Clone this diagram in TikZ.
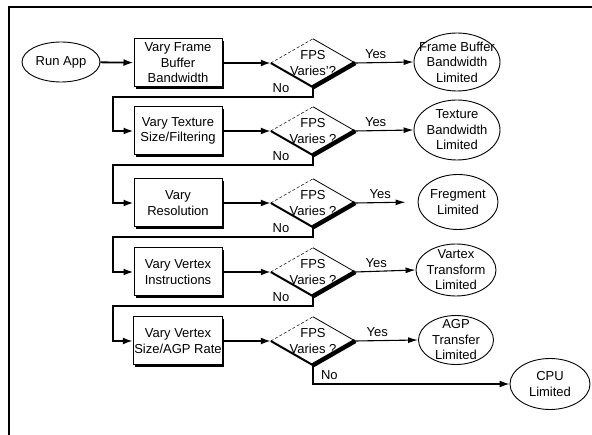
\documentclass[tikz,border=0pt]{standalone}
\usepackage{fontspec}
\setmainfont{Liberation Sans}
\usetikzlibrary{shapes.geometric,arrows.meta,shadows}

\begin{document}
\begin{tikzpicture}[x=1pt, y=-1pt,
        font=\fontsize{13}{15.5}\selectfont,
        stepbox/.style={rectangle, draw, line width=1pt, fill=white, minimum width=88pt, minimum height=48pt, inner sep=1pt, align=center,
            drop shadow={shadow xshift=1.6pt, shadow yshift=-1.6pt, opacity=1, fill=black}},
        endbox/.style={ellipse, draw, line width=0.9pt, inner sep=0pt},
        decide/.style={rectangle, minimum width=84pt, minimum height=48pt, inner sep=0pt, align=center},
        flow/.style={line width=1.8pt, -{Latex[length=10pt, width=7pt]}},
        yes/.style={line width=1.1pt, -{Latex[length=10pt, width=6pt]}}]

            \useasboundingbox (0,0) rectangle (592,435);
            \draw[line width=1.5pt] (9,435) -- (9,7) -- (592,7);

            % first column: start and the five steps
            \node[endbox, minimum width=78pt, minimum height=40pt] (run) at (61,62) {Run App};
            \node[stepbox] (vfb) at (178,63) {Vary Frame\\Buffer\\Bandwidth};
            \node[stepbox] (vtx) at (178,131) {Vary Texture\\Size/Filtering};
            \node[stepbox] (vres) at (178,203) {Vary\\Resolution};
            \node[stepbox] (vvi) at (178,272) {Vary Vertex\\Instructions};
            \node[stepbox] (vva) at (178,341) {Vary Vertex\\Size/AGP Rate};

            % decisions
            \node[decide] (fps1) at (313,63) {FPS\\Varies'?};
            \node[decide] (fps2) at (313,131) {FPS\\Varies ?};
            \node[decide] (fps3) at (313,203) {FPS\\Varies ?};
            \node[decide] (fps4) at (313,272) {FPS\\Varies ?};
            \node[decide] (fps5) at (313,341) {FPS\\Varies ?};

            \foreach \d in {fps1,fps2,fps3,fps4,fps5}
            {
                \draw[line width=0.5pt, densely dashed] (\d.west) -- (\d.north);
                \draw[line width=0.8pt] (\d.north) -- (\d.east);
                \draw[line width=4.5pt] (\d.east) -- (\d.south);
                \draw[line width=2pt] (\d.south) -- (\d.west);
            }

            % results
            \node[endbox, minimum width=86pt, minimum height=58pt, label={[align=center]center:{Frame Buffer\\Bandwidth\\Limited}}] (fbl) at (457,62) {};
            \node[endbox, minimum width=86pt, minimum height=60pt, label={[align=center]center:{Texture\\Bandwidth\\Limited}}] (tbl) at (457,130) {};
            \node[endbox, minimum width=80pt, minimum height=55pt, label={[align=center]center:{Fregment\\Limited}}] (frl) at (458,202) {};
            \node[endbox, minimum width=80pt, minimum height=52pt, label={[align=center]center:{Vartex\\Transform\\Limited}}] (vtl) at (456,270) {};
            \node[endbox, minimum width=75pt, minimum height=49pt, label={[align=center]center:{AGP\\Transfer\\Limited}}] (agl) at (456,340) {};
            \node[endbox, minimum width=80pt, minimum height=51pt, label={[align=center]center:{CPU\\Limited}}] (cpu) at (550,384) {};

            \coordinate (lft) at (113,0);

            \draw[flow] (run) -- (vfb);
            \draw[flow] (vfb) -- (fps1.west);
            \draw[flow] (vtx) -- (fps2.west);
            \draw[flow] (vres) -- (fps3.west);
            \draw[flow] (vvi) -- (fps4.west);
            \draw[flow] (vva) -- (fps5.west);

            \draw[yes] (fps1.east) -- node[above, pos=0.35] {Yes} (fbl.west);
            \draw[yes] (fps2.east) -- node[above, pos=0.35] {Yes} (tbl.west);
            \draw[yes, shorten >=12pt] (fps3.east) -- node[above, pos=0.4] {Yes} (frl.west);
            \draw[yes] (fps4.east) -- node[above, pos=0.35] {Yes} (vtl.west);
            \draw[yes] (fps5.east) -- node[above, pos=0.35] {Yes} (agl.west);

            % the No branches
            \draw[flow] (fps1.south) -- ++(0,10) coordinate (t1) -- node[pos=0.16, above] {No} (t1 -| lft) |- (vtx.west);
            \draw[flow] (fps2.south) -- ++(0,10) coordinate (t2) -- node[pos=0.16, above] {No} (t2 -| lft) |- (vres.west);
            \draw[flow] (fps3.south) -- ++(0,10) coordinate (t3) -- node[pos=0.16, above] {No} (t3 -| lft) |- (vvi.west);
            \draw[flow] (fps4.south) -- ++(0,10) coordinate (t4) -- node[pos=0.16, above] {No} (t4 -| lft) |- (vva.west);
            \draw[flow, line width=1.4pt] (fps5.south) |- node[pos=0.5, above right, xshift=4pt] {No} (cpu.west);
        \end{tikzpicture}
\end{document}
